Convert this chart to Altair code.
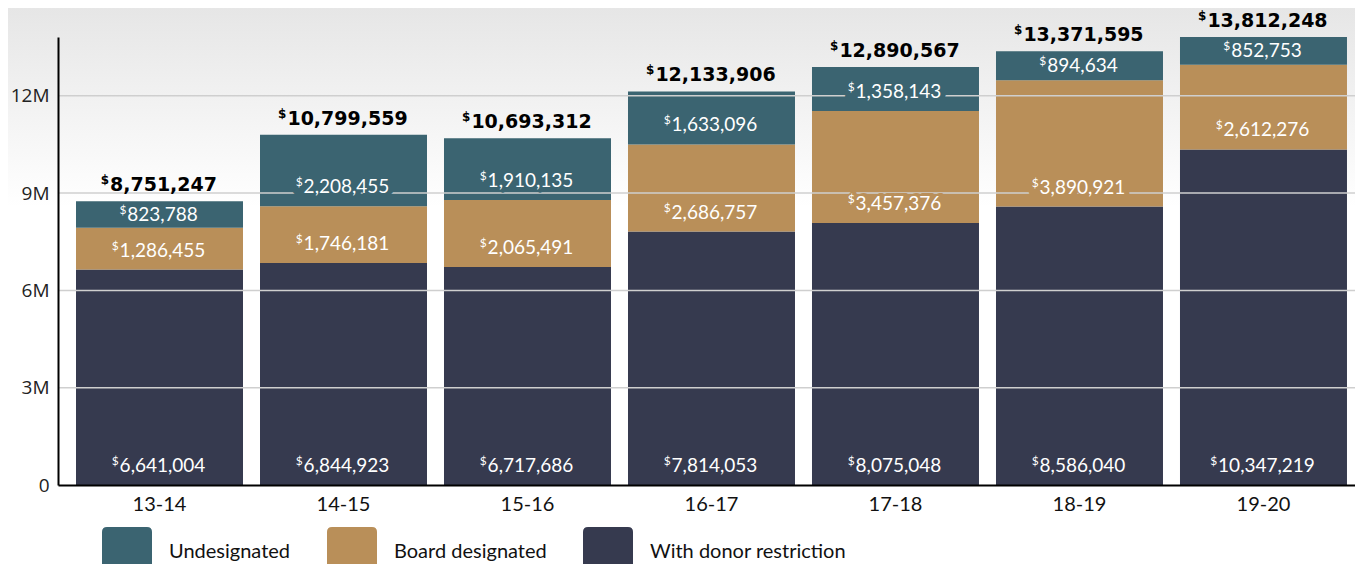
import altair as alt
import pandas as pd

years = ["13-14", "14-15", "15-16", "16-17", "17-18", "18-19", "19-20"]
undesignated = [823788, 2208455, 1910135, 1633096, 1358143, 894634, 852753]
board = [1286455, 1746181, 2065491, 2686757, 3457376, 3890921, 2612276]
donor = [6641004, 6844923, 6717686, 7814053, 8075048, 8586040, 10347219]
totals = [8751247, 10799559, 10693312, 12133906, 12890567, 13371595, 13812248]
series = ["Undesignated", "Board designated", "With donor restriction"]
colors = ["#3b6471", "#b98f59", "#363a4f"]
grid_ticks = [3000000, 6000000, 9000000, 12000000]
y_ticks = [0, 3000000, 6000000, 9000000, 12000000]

rows = []
for i, yr in enumerate(years):
    rows.append({"year": yr, "series": series[2], "value": donor[i], "ord": 0})
    rows.append({"year": yr, "series": series[1], "value": board[i], "ord": 1})
    rows.append({"year": yr, "series": series[0], "value": undesignated[i], "ord": 2})
df = pd.DataFrame(rows)
tot_df = pd.DataFrame({"year": years, "total": totals})
grid_df = pd.DataFrame({"v": grid_ticks})

W, H = 1297, 448
YMAX = max(totals)
LABEL_LIFT = 19 * YMAX / H  # label sits ~19px above a segment's base, or mid-segment if short

xscale = alt.Scale(domain=years, paddingInner=0.0924, paddingOuter=0.0707, align=0.692)
yscale = alt.Scale(domain=[0, YMAX], nice=False, zero=True)
cscale = alt.Scale(domain=series, range=colors)

xaxis = alt.Axis(title=None, labelAngle=0, ticks=False, labelFont="Lato",
                 labelFontSize=20, labelColor="#111", labelPadding=9,
                 domainColor="#000", domainWidth=2, zindex=1)
yaxis = alt.Axis(title=None, values=y_ticks, ticks=False, grid=False,
                 labelExpr="datum.value == 0 ? '0' : (datum.value / 1000000) + 'M'",
                 labelFont="Open Sans", labelFontSize=19, labelColor="#222",
                 labelPadding=9, domainColor="#000", domainWidth=2, zindex=1)


def X():
    return alt.X("year:N", scale=xscale, sort=years, axis=xaxis, title=None)


def Y(field):
    return alt.Y(field, scale=yscale, axis=yaxis, title=None)


bg = alt.Chart(pd.DataFrame({"a": [0]})).mark_rect(
    fill=alt.LinearGradient(gradient="linear", x1=0, x2=0, y1=0, y2=1,
                            stops=[alt.GradientStop(color="#e6e6e6", offset=0),
                                   alt.GradientStop(color="#ffffff", offset=1)])
).encode(x=alt.value(-58), x2=alt.value(W + 60), y=alt.value(-29), y2=alt.value(170))

stacked = alt.Chart(df).transform_stack(
    stack="value", groupby=["year"], as_=["y0", "y1"],
    sort=[alt.SortField("ord", order="ascending")]
)

rounded = "M -1 -0.8 Q -1 -1 -0.8 -1 L 0.8 -1 Q 1 -1 1 -0.8 L 1 0.8 Q 1 1 0.8 1 L -0.8 1 Q -1 1 -1 0.8 Z"

bars = stacked.mark_bar().encode(
    x=X(),
    y=Y("y0:Q"),
    y2="y1:Q",
    color=alt.Color("series:N", scale=cscale,
                    legend=alt.Legend(title=None, orient="none", legendX=44, legendY=490,
                                      direction="horizontal", symbolType=rounded,
                                      symbolSize=2500, symbolStrokeWidth=0,
                                      labelFont="Lato", labelFontSize=20, labelColor="#111",
                                      labelLimit=400, labelOffset=17, columnPadding=36,
                                      padding=0)),
)

grid = alt.Chart(grid_df).mark_rule(color="#cfcfcf", strokeWidth=1.5).encode(y=Y("v:Q"))

seg = stacked.transform_calculate(
    halo='"$" + format(datum.value, ",d")',
    lab=f"min((datum.y0 + datum.y1) / 2, datum.y0 + {LABEL_LIFT})",
)

seg_off = ("-(length(format(datum.value, 'd')) * 0.58 * 19 + "
           "floor((length(format(datum.value, 'd')) - 1) / 3) * 0.22 * 19) / 2 + 2")
tot_off = ("-(length(format(datum.total, 'd')) * 0.696 * 19 + "
           "floor((length(format(datum.total, 'd')) - 1) / 3) * 0.38 * 19) / 2 + 3")

seg_halo = seg.mark_text(align="center", baseline="middle", font="Lato", fontSize=19,
                         strokeWidth=6, strokeJoin="round").encode(
    x=X(), y=Y("lab:Q"),
    text="halo:N",
    fill=alt.Fill("series:N", scale=cscale, legend=None),
    stroke=alt.Stroke("series:N", scale=cscale, legend=None),
)

seg_text = seg.mark_text(align="center", baseline="middle", dx=3, font="Lato",
                         fontSize=19, color="white").encode(
    x=X(), y=Y("lab:Q"),
    text=alt.Text("value:Q", format=",d"),
)

seg_dollar = seg.mark_text(align="right", baseline="middle", dx=alt.ExprRef(expr=seg_off),
                           dy=-5, font="Lato", fontSize=12, color="white").encode(
    x=X(), y=Y("lab:Q"),
    text=alt.value("$"),
)

tot = alt.Chart(tot_df)

tot_text = tot.mark_text(align="center", baseline="middle", dx=4, dy=-16,
                         font="DejaVu Sans", fontSize=19, fontWeight="bold",
                         color="#000").encode(
    x=X(), y=Y("total:Q"),
    text=alt.Text("total:Q", format=",d"),
)

tot_dollar = tot.mark_text(align="right", baseline="middle", dx=alt.ExprRef(expr=tot_off),
                           dy=-21, font="DejaVu Sans", fontSize=12, fontWeight="bold",
                           color="#000").encode(
    x=X(), y=Y("total:Q"),
    text=alt.value("$"),
)

chart = alt.layer(
    bg, bars, grid, seg_halo, seg_text, seg_dollar, tot_text, tot_dollar
).properties(
    width=W, height=H,
    autosize=alt.AutoSizeParams(type="none"),
    padding={"left": 50, "top": 29, "right": 0, "bottom": 79},
    background="white",
).configure_view(stroke=None)

chart.save("out.html", embed_options={"renderer": "svg", "actions": False})
